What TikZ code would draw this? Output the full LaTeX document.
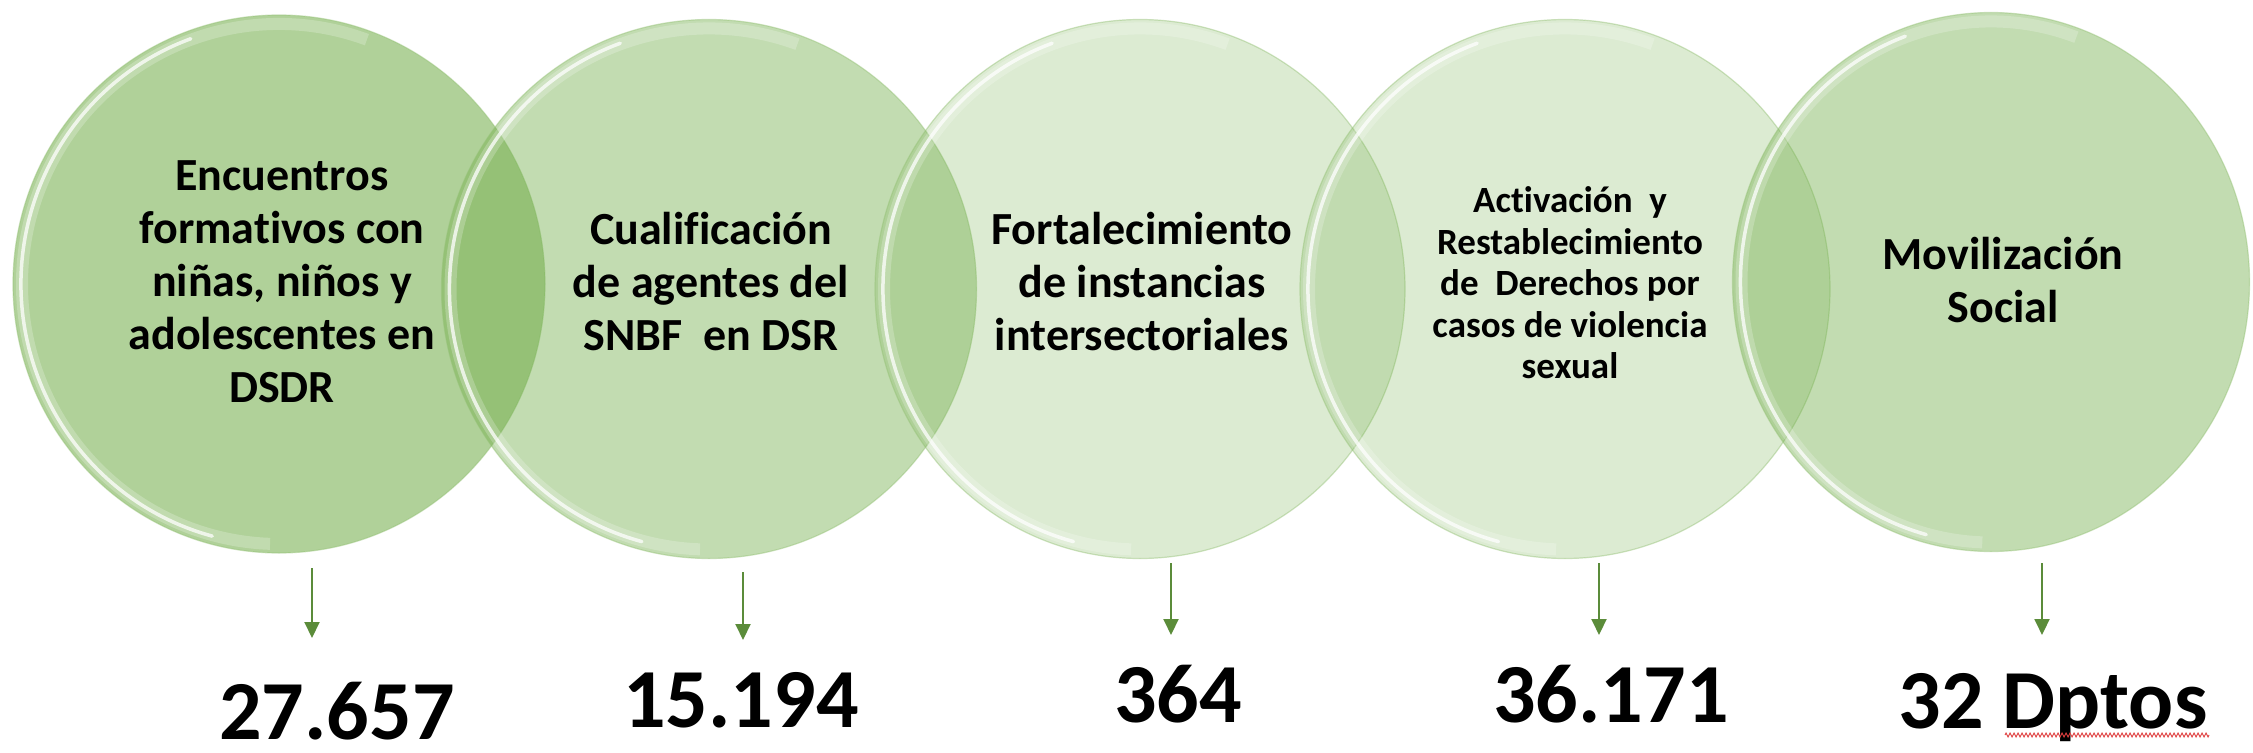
\documentclass[tikz,border=0pt]{standalone}
\usepackage{fontspec}
\setmainfont{Carlito}[Ligatures=NoCommon]
\usetikzlibrary{shapes.geometric,arrows.meta,decorations.pathmorphing}
\definecolor{gbase}{HTML}{70AD47}
\definecolor{arrowgreen}{HTML}{5B8C3A}
\definecolor{spellred}{HTML}{E04040}
\begin{document}
\begin{tikzpicture}[x=1pt,y=-1pt,
  bubble/.style={ellipse, inner sep=0pt, fill=gbase, draw=gbase!75, line width=1.2pt, draw opacity=0.45},
  bubbletext/.style={align=center, font=\bfseries\fontsize{46}{53}\selectfont, text=black, inner sep=0pt},
  valuetext/.style={font=\bfseries\fontsize{84}{90}\selectfont, text=black, inner sep=0pt, anchor=base},
  flow/.style={draw=arrowgreen, line width=2pt, -{Triangle[width=15pt,length=16pt]}},
  spell/.style={draw=spellred, line width=0.9pt, decorate, decoration={zigzag, amplitude=2pt, segment length=4pt}}
]
\useasboundingbox (0,0) rectangle (2253,752);
\fill[white] (0,0) rectangle (2253,752);

\foreach \name/\cx/\cy/\rx/\ry/\op in {c1/279/284/266/269/0.55, c2/709/289/267.5/269.5/0.42, c3/1140/289/265/269.5/0.245, c4/1565/289/265/269.5/0.245, c5/1991/282/258.5/269.5/0.42}{
  \node[bubble, fill opacity=\op, minimum width={2*\rx*1pt}, minimum height={2*\ry*1pt}] (\name) at (\cx,\cy) {};
  \draw[white, line width=12pt, opacity=0.22]
    ([shift={(70:{(\rx-9)*1pt} and {(\ry-9)*1pt})}]\name.center)
    arc[start angle=70, end angle=268, x radius={(\rx-9)*1pt}, y radius={(\ry-9)*1pt}];
  \draw[white, line width=3.5pt, opacity=0.75, line cap=round]
    ([shift={(110:{(\rx-8)*1pt} and {(\ry-8)*1pt})}]\name.center)
    arc[start angle=110, end angle=255, x radius={(\rx-8)*1pt}, y radius={(\ry-8)*1pt}];
}

\node[bubbletext] (t1) at (282,282) {Encuentros\\formativos con\\niñas, niños y\\adolescentes en\\DSDR};
\node[bubbletext] (t2) at (711,282) {Cualificación\\de agentes del\\SNBF\ \ en DSR};
\node[bubbletext] (t3) at (1142,282) {Fortalecimiento\\de instancias\\intersectoriales};
\node[bubbletext, font=\bfseries\fontsize{37}{41.5}\selectfont] (t4) at (1570,283) {Activación\ \ y\\Restablecimiento\\de\ \ Derechos por\\casos de violencia\\sexual};
\node[bubbletext] (t5) at (2003,280) {Movilización\\Social};

\coordinate (a1s) at (312,568); \coordinate (a1e) at (312,638);
\coordinate (a2s) at (743,572); \coordinate (a2e) at (743,640);
\coordinate (a3s) at (1171,563); \coordinate (a3e) at (1171,635);
\coordinate (a4s) at (1599,563); \coordinate (a4e) at (1599,635);
\coordinate (a5s) at (2042,563); \coordinate (a5e) at (2042,635);
\foreach \i in {1,...,5}{\draw[flow] (a\i s) -- (a\i e);}

\node[valuetext] (n1) at (337,739) {27.657};
\node[valuetext] (n2) at (741,727) {15.194};
\node[valuetext] (n3) at (1178,722) {364};
\node[valuetext] (n4) at (1611,722) {36.171};
\node[valuetext] (n5) at (2053,728) {32 Dptos};

\coordinate (sq1) at (2005,735); \coordinate (sq2) at (2209,735);
\draw[spell] (sq1) -- (sq2);
\end{tikzpicture}
\end{document}
